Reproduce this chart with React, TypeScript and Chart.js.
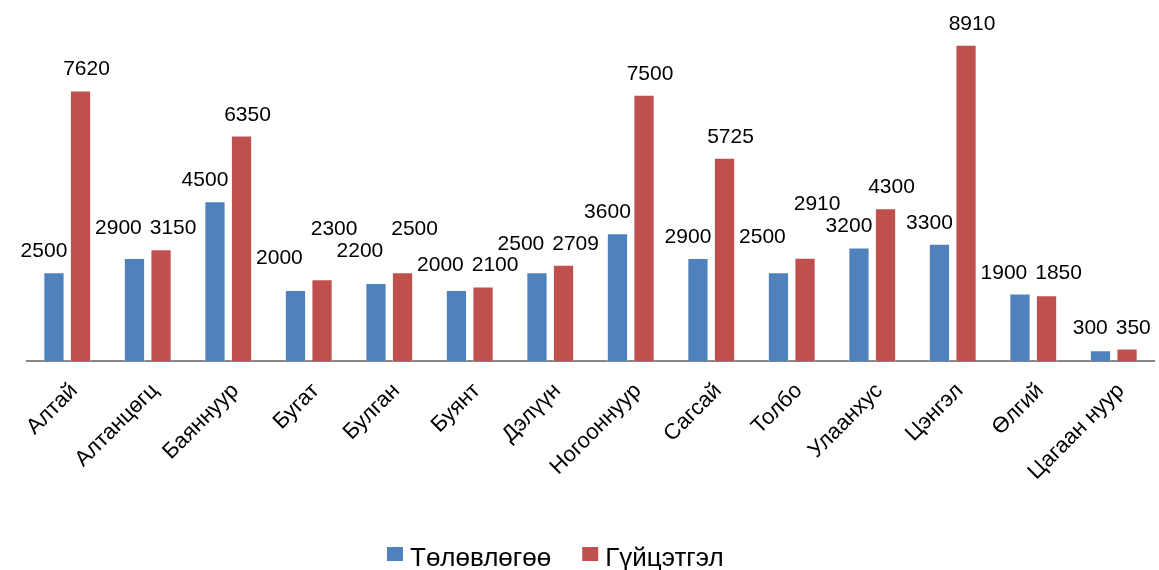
import React, { useEffect, useRef } from "react";
import { Chart, registerables } from "chart.js";

Chart.register(...registerables);

const categories = [
  "Алтай",
  "Алтанцөгц",
  "Баяннуур",
  "Бугат",
  "Булган",
  "Буянт",
  "Дэлүүн",
  "Ногооннуур",
  "Сагсай",
  "Толбо",
  "Улаанхус",
  "Цэнгэл",
  "Өлгий",
  "Цагаан нуур",
];

const planValues = [2500, 2900, 4500, 2000, 2200, 2000, 2500, 3600, 2900, 2500, 3200, 3300, 1900, 300];
const actualValues = [7620, 3150, 6350, 2300, 2500, 2100, 2709, 7500, 5725, 2910, 4300, 8910, 1850, 350];

const seriesNames = ["Төлөвлөгөө", "Гүйцэтгэл"];
const seriesColors = ["#4F81BD", "#C0504D"];

const FONT = "'Liberation Sans', Arial, sans-serif";

const labelOffsets = [-10, 6];

const valueLabels = {
  id: "valueLabels",
  afterDatasetsDraw(chart: any) {
    const ctx = chart.ctx;
    ctx.save();
    ctx.font = `21px ${FONT}`;
    ctx.fillStyle = "#000";
    ctx.textAlign = "center";
    ctx.textBaseline = "alphabetic";
    const m0 = chart.getDatasetMeta(0);
    const m1 = chart.getDatasetMeta(1);
    const d0 = chart.data.datasets[0].data;
    const d1 = chart.data.datasets[1].data;
    const lh = 16;
    const sep = 8;
    const blue: any[] = [];
    const red: any[] = [];
    m0.data.forEach((el0: any, i: number) => {
      const el1 = m1.data[i];
      const t0 = String(d0[i]);
      const t1 = String(d1[i]);
      const w0 = ctx.measureText(t0).width;
      const w1 = ctx.measureText(t1).width;
      let x0 = el0.x + labelOffsets[0];
      let x1 = el1.x + labelOffsets[1];
      let y0 = el0.y - 15;
      let y1 = el1.y - 15;
      const vOverlap = Math.abs(y0 - y1) < lh;
      const hOverlap = x0 + w0 / 2 + sep > x1 - w1 / 2;
      if (vOverlap && hOverlap) {
        const mid = (x0 + w0 / 2 + x1 - w1 / 2) / 2;
        x0 = mid - w0 / 2 - sep / 2;
        x1 = mid + w1 / 2 + sep / 2;
        const y = Math.min(y0, y1);
        y0 = y;
        y1 = y;
      }
      blue.push({ t: t0, x: x0, y: y0, w: w0 });
      red.push({ t: t1, x: x1, y: y1, w: w1 });
    });
    for (let i = 0; i < red.length - 1; i++) {
      const r = red[i];
      const b = blue[i + 1];
      const h = r.x + r.w / 2 + 4 > b.x - b.w / 2;
      const v = Math.abs(r.y - b.y) < 20;
      if (h && v) {
        r.y = Math.min(r.y, b.y) - 22;
      }
    }
    blue.concat(red).forEach((l) => ctx.fillText(l.t, l.x, l.y));
    ctx.restore();
  },
};

const bottomLegend = {
  id: "bottomLegend",
  afterDraw(chart: any) {
    const ctx = chart.ctx;
    ctx.save();
    ctx.font = `26px ${FONT}`;
    ctx.textBaseline = "alphabetic";
    ctx.textAlign = "left";
    let x = 387;
    const boxTop = 547;
    chart.data.datasets.forEach((ds: any) => {
      ctx.fillStyle = ds.backgroundColor;
      ctx.fillRect(x, boxTop, 16, 14);
      x += 16 + 7;
      ctx.fillStyle = "#000";
      ctx.fillText(ds.label, x, 566);
      x += ctx.measureText(ds.label).width + 31;
    });
    ctx.restore();
  },
};

export default function App() {
  const ref = useRef<HTMLCanvasElement | null>(null);
  useEffect(() => {
    document.body.style.margin = "0";
    const chart = new Chart(ref.current as HTMLCanvasElement, {
      type: "bar",
      data: {
        labels: categories,
        datasets: [
          {
            label: seriesNames[0],
            data: planValues,
            backgroundColor: seriesColors[0],
            borderColor: "rgba(255,255,255,0.5)",
            borderWidth: 1,
            categoryPercentage: 0.66,
            barPercentage: 0.8,
          },
          {
            label: seriesNames[1],
            data: actualValues,
            backgroundColor: seriesColors[1],
            borderColor: "rgba(255,255,255,0.5)",
            borderWidth: 1,
            categoryPercentage: 0.66,
            barPercentage: 0.8,
          },
        ],
      },
      options: {
        animation: false,
        responsive: false,
        maintainAspectRatio: false,
        layout: { padding: { top: 6, left: 27, right: 5, bottom: 43 } },
        plugins: {
          legend: { display: false },
          tooltip: { enabled: false },
        },
        scales: {
          x: {
            grid: { display: false },
            border: { display: true, color: "#868686", width: 2 },
            ticks: {
              color: "#000",
              font: { size: 22, family: FONT },
              maxRotation: 45,
              minRotation: 45,
              padding: 9,
              labelOffset: 7,
              autoSkip: false,
            },
            afterFit: (scale: any) => {
              scale.height = 166;
            },
          },
          y: {
            display: false,
            min: 0,
            max: 10000,
          },
        },
      },
      plugins: [valueLabels, bottomLegend],
    });
    return () => chart.destroy();
  }, []);
  return (
    <div style={{ width: 1159, height: 570 }}>
      <canvas ref={ref} width={1159} height={570} style={{ width: 1159, height: 570 }} />
    </div>
  );
}
